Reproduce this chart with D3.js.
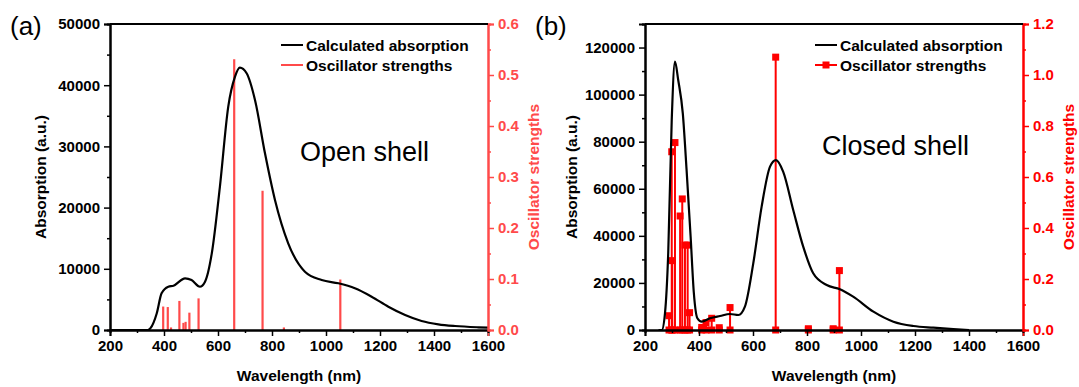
<!DOCTYPE html>
<html><head><meta charset="utf-8">
<script src="https://cdn.jsdelivr.net/npm/d3@7"></script>
<style>html,body{margin:0;padding:0;background:#fff;}svg{display:block;font-family:"Liberation Sans",Arial,sans-serif;}</style>
</head><body>
<svg id="chart" width="1079" height="387"></svg>
<script>
// ---------- DATA ----------
const xTicks = [200, 400, 600, 800, 1000, 1200, 1400, 1600];

// Panel (a) open shell
const absA_nm  = [200, 340, 350, 373, 391, 416, 435, 478, 502, 533, 552, 577, 607, 638, 663, 681, 706, 737, 774, 811, 860, 922, 984, 1046, 1107, 1169, 1231, 1293, 1354, 1416, 1478, 1564, 1600];
const absA_val = [0, 0, 300, 2700, 6000, 7080, 7240, 8440, 8170, 7080, 7900, 12530, 23400, 36500, 41400, 42860, 41950, 37580, 28870, 21240, 14170, 9530, 8170, 7630, 6810, 5440, 3810, 2450, 1470, 930, 650, 440, 380];
const oscA_nm  = [397, 414, 426, 457, 472, 480, 494, 528, 660, 765, 844, 1053];
const oscA_f   = [0.046, 0.045, 0.005, 0.057, 0.014, 0.016, 0.034, 0.062, 0.531, 0.273, 0.005, 0.099];
const yTicksA  = [0, 10000, 20000, 30000, 40000, 50000];
const y2TicksA = [0.0, 0.1, 0.2, 0.3, 0.4, 0.5, 0.6];

// Panel (b) closed shell
const absB_nm  = [250, 262, 274, 286, 299, 311, 323, 340, 354, 369, 381, 394, 410, 441, 478, 515, 546, 570, 601, 632, 663, 685, 712, 749, 786, 823, 873, 922, 971, 1046, 1120, 1194, 1268, 1342, 1400];
const absB_val = [0, 0, 7100, 32600, 89200, 114000, 106200, 92000, 68000, 39600, 15600, 5000, 3540, 5000, 5950, 6800, 6370, 9900, 28300, 52400, 69400, 72200, 67200, 51000, 35400, 24100, 19100, 17300, 14150, 7780, 3540, 1700, 980, 400, 0];
const oscB_nm  = [289, 299, 301, 311, 330, 338, 348, 358, 365, 410, 426, 447, 475, 515, 684, 805, 897, 920];
const oscB_f   = [0.056, 0.699, 0.272, 0.735, 0.447, 0.514, 0.333, 0.333, 0.068, 0.010, 0.029, 0.046, 0.009, 0.088, 1.07, 0.005, 0.005, 0.233];
const yTicksB  = [0, 20000, 40000, 60000, 80000, 100000, 120000];
const y2TicksB = [0.0, 0.2, 0.4, 0.6, 0.8, 1.0, 1.2];

// ---------- DRAW ----------
const svg = d3.select("#chart");

function panel(o) {
  const g = svg.append("g");
  const x = d3.scaleLinear().domain([200, 1600]).range([o.left, o.left + 378]);
  const y = d3.scaleLinear().domain([0, o.yMax]).range([330, 24]);
  const y2 = d3.scaleLinear().domain([0, o.y2Max]).range([330, 24]);

  // sticks
  const sticks = o.osc_nm.map((n, i) => ({n, f: o.osc_f[i]}));
  g.append("g").selectAll("line").data(sticks).join("line")
    .attr("x1", d => x(d.n)).attr("x2", d => x(d.n))
    .attr("y1", y2(0)).attr("y2", d => y2(d.f))
    .attr("stroke", o.red).attr("stroke-width", o.squares ? 2 : 2.2);
  if (o.squares) {
    const pts = sticks.flatMap(d => [{n: d.n, f: 0}, d]);
    g.append("g").selectAll("rect").data(pts).join("rect")
      .attr("x", d => x(d.n) - 3.5).attr("y", d => y2(d.f) - 3.5)
      .attr("width", 7).attr("height", 7).attr("fill", o.red);
  }

  // absorption curve
  const line = d3.line().x(d => x(d[0])).y(d => y(d[1])).curve(d3.curveMonotoneX);
  g.append("path").datum(o.abs_nm.map((n, i) => [n, o.abs_val[i]]))
    .attr("d", line).attr("fill", "none").attr("stroke", "#000").attr("stroke-width", 2.2);

  // axes
  const xAxis = d3.axisBottom(x).tickValues(xTicks).tickSize(6).tickPadding(4).tickFormat(d3.format("d"));
  const gx = g.append("g").attr("transform", "translate(0,330)").call(xAxis);
  g.append("g").attr("transform", "translate(0,330)")
    .call(d3.axisBottom(x).tickValues(d3.range(300, 1600, 200)).tickSize(3).tickFormat(""));
  const gy = g.append("g").attr("transform", `translate(${o.left},0)`)
    .call(d3.axisLeft(y).tickValues(o.yTicks).tickSize(6).tickPadding(4).tickFormat(d3.format("d")));
  g.append("g").attr("transform", `translate(${o.left},0)`)
    .call(d3.axisLeft(y).tickValues(o.yTicks.slice(0, -1).map((v, i) => (v + o.yTicks[i + 1]) / 2).concat(o.yMax > o.yTicks[o.yTicks.length-1] ? [o.yTicks[o.yTicks.length-1] + (o.yTicks[1]-o.yTicks[0])/2] : [])).tickSize(3).tickFormat(""));
  const gy2 = g.append("g").attr("transform", `translate(${o.left + 378},0)`)
    .call(d3.axisRight(y2).tickValues(o.y2Ticks).tickSize(6).tickPadding(4).tickFormat(d3.format(".1f")));
  g.append("g").attr("transform", `translate(${o.left + 378},0)`)
    .call(d3.axisRight(y2).tickValues(o.y2Ticks.slice(0, -1).map((v, i) => (v + o.y2Ticks[i + 1]) / 2)).tickSize(3).tickFormat(""));

  g.selectAll(".domain").attr("stroke-width", 2);
  g.selectAll(".tick line").attr("stroke-width", 1.5);
  [gx, gy].forEach(a => a.selectAll("text").attr("font-size", 15).attr("font-weight", "bold").attr("fill", "#000").attr("font-family", "Liberation Sans, Arial"));
  gy2.selectAll("text").attr("font-size", 15).attr("font-weight", "bold").attr("fill", o.red).attr("font-family", "Liberation Sans, Arial");
  gy2.selectAll(".domain, .tick line").attr("stroke", o.red);
  g.selectAll("g").filter(function(){ return this.parentNode === g.node(); });
  // red minor ticks on right
  g.selectAll("g").each(function(){
    const t = d3.select(this).attr("transform");
    if (t && t.startsWith(`translate(${o.left + 378}`)) d3.select(this).selectAll(".domain, .tick line").attr("stroke", o.red);
  });

  // top border
  g.append("line").attr("x1", o.left).attr("x2", o.left + 378).attr("y1", 24).attr("y2", 24)
    .attr("stroke", "#000").attr("stroke-width", 2);

  // titles
  g.append("text").attr("x", o.left + 189).attr("y", 381).attr("text-anchor", "middle")
    .attr("font-size", 15.5).attr("font-weight", "bold").text("Wavelength (nm)");
  g.append("text").attr("transform", `translate(${o.yLabelX},177) rotate(-90)`).attr("text-anchor", "middle")
    .attr("dominant-baseline", "central").attr("font-size", 15.5).attr("font-weight", "bold").text("Absorption (a.u.)");
  g.append("text").attr("transform", `translate(${o.left + 423},177) rotate(-90)`).attr("text-anchor", "middle")
    .attr("dominant-baseline", "central").attr("font-size", 15.5).attr("font-weight", "bold").attr("fill", o.red).text("Oscillator strengths");

  // panel letter
  g.append("text").attr("x", o.letterX).attr("y", 35).attr("font-size", 26).text(o.letter);

  // annotation
  g.append("text").attr("x", o.annoX).attr("y", o.annoY).attr("font-size", 27).text(o.anno);

  // legend
  const lx = o.legX;
  g.append("line").attr("x1", lx).attr("x2", lx + 22).attr("y1", 45).attr("y2", 45).attr("stroke", "#000").attr("stroke-width", 2);
  g.append("line").attr("x1", lx).attr("x2", lx + 22).attr("y1", 65).attr("y2", 65).attr("stroke", o.red).attr("stroke-width", 2);
  if (o.squares) g.append("rect").attr("x", lx + 11 - 3.5).attr("y", 65 - 3.5).attr("width", 7).attr("height", 7).attr("fill", o.red);
  g.append("text").attr("x", lx + 25).attr("y", 45).attr("dominant-baseline", "central")
    .attr("font-size", 15.5).attr("font-weight", "bold").text("Calculated absorption");
  g.append("text").attr("x", lx + 25).attr("y", 65).attr("dominant-baseline", "central")
    .attr("font-size", 15.5).attr("font-weight", "bold").text("Oscillator strengths");
}

panel({left: 110, yMax: 50000, y2Max: 0.6, yTicks: yTicksA, y2Ticks: y2TicksA,
  abs_nm: absA_nm, abs_val: absA_val, osc_nm: oscA_nm, osc_f: oscA_f,
  red: "#ff4a4a", squares: false, yLabelX: 40, letter: "(a)", letterX: 10,
  anno: "Open shell", annoX: 300, annoY: 161, legX: 281});
panel({left: 645, yMax: 130000, y2Max: 1.2, yTicks: yTicksB, y2Ticks: y2TicksB,
  abs_nm: absB_nm, abs_val: absB_val, osc_nm: oscB_nm, osc_f: oscB_f,
  red: "#ff0000", squares: true, yLabelX: 571, letter: "(b)", letterX: 535,
  anno: "Closed shell", annoX: 822, annoY: 155, legX: 815});
</script>
</body></html>
